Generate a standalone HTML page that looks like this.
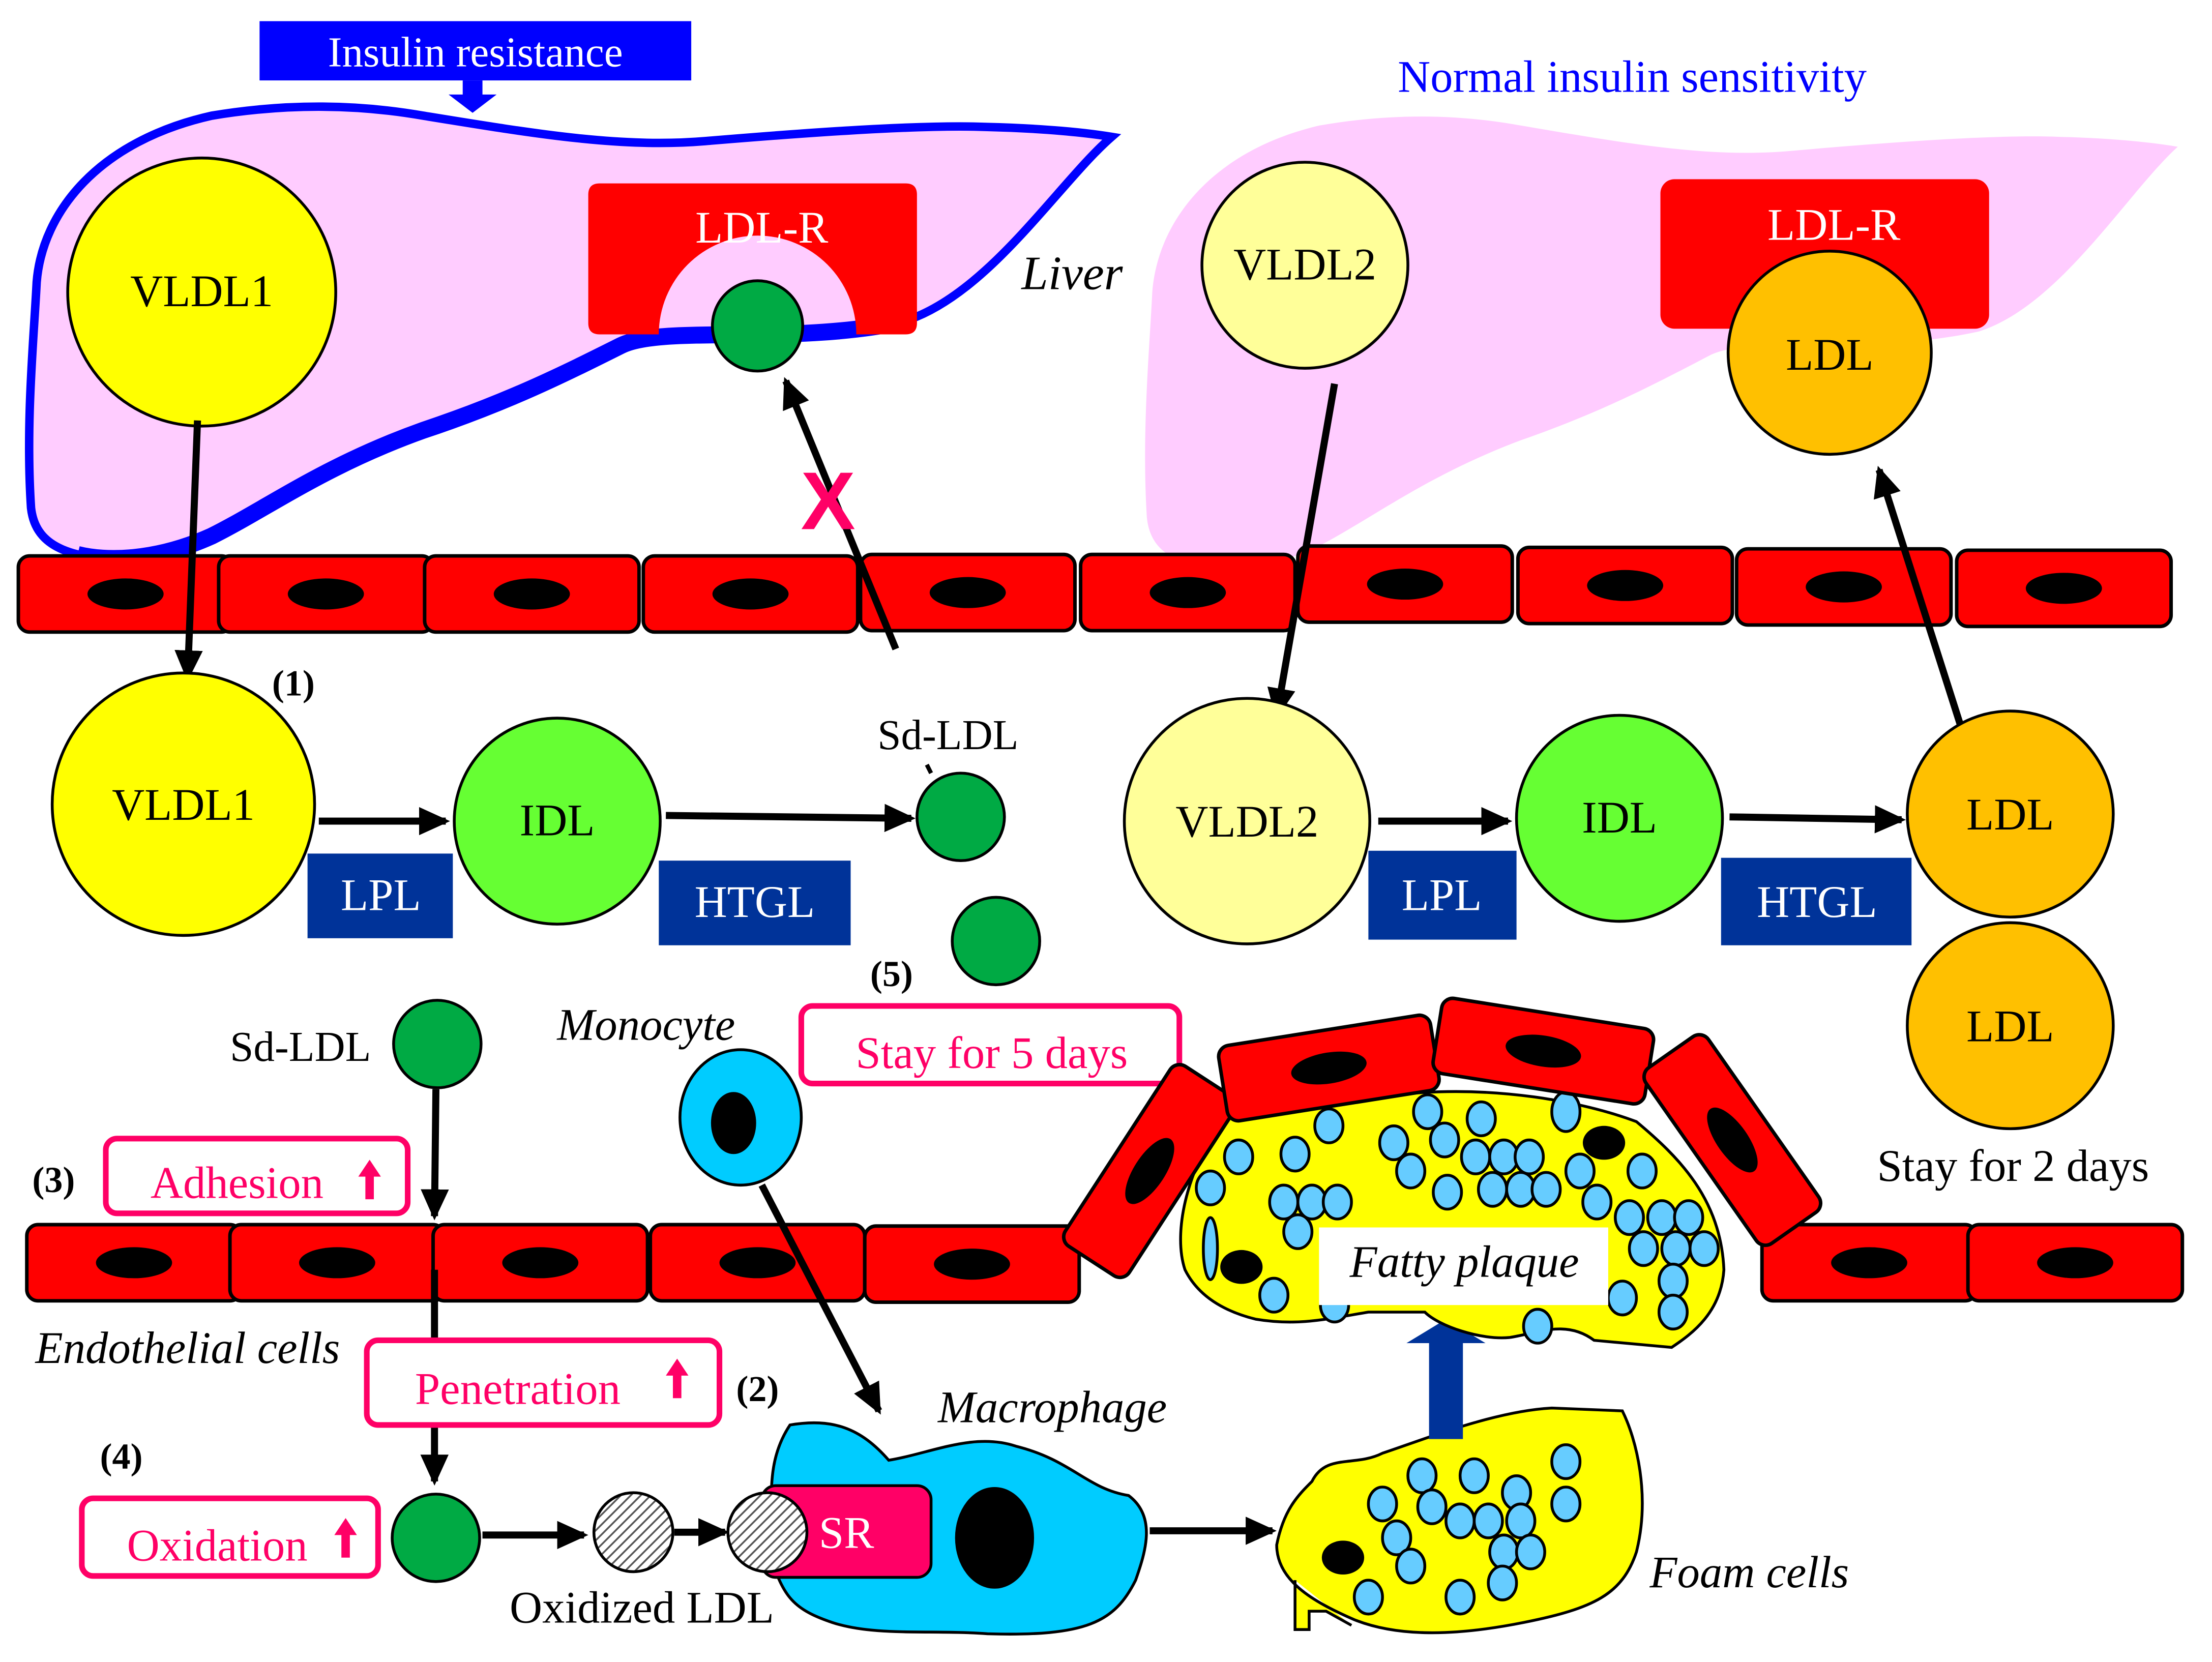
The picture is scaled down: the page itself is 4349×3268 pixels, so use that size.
<!DOCTYPE html>
<html><head><meta charset="utf-8"><style>html,body{margin:0;padding:0;background:#fff}svg{display:block}</style></head>
<body>
<svg width="4349" height="3268" viewBox="0 0 1568 1178" preserveAspectRatio="none" xmlns="http://www.w3.org/2000/svg" font-family="Liberation Serif, serif">
<defs>
<marker id="ah" markerWidth="4.4" markerHeight="4" refX="3.8" refY="2" orient="auto" markerUnits="strokeWidth"><path d="M0,0 L4.4,2 L0,4 z" fill="#000"/></marker>
<pattern id="hatch" width="5" height="5" patternUnits="userSpaceOnUse" patternTransform="rotate(45)"><rect width="5" height="5" fill="#fff"/><line x1="0" y1="0" x2="0" y2="5" stroke="#555" stroke-width="2.5"/></pattern>
<g id="cell"><rect x="-76" y="-27" width="152" height="54" rx="8" fill="#ff0000" stroke="#000" stroke-width="2.5"/><ellipse cx="0" cy="0" rx="27" ry="11" fill="#000"/></g>
<path id="liver" d="M22,360 C18,300 24,240 26,200 C30,150 70,100 150,82 C210,72 260,75 300,82 C380,95 440,105 500,100 C560,95 650,88 700,90 C740,91 770,94 788,97 C750,130 700,210 640,228 C560,245 470,230 440,245 C400,265 360,285 300,305 C230,330 190,360 150,380 C110,398 75,398 55,393 C35,388 24,378 22,360 Z"/>
</defs>
<rect width="1568" height="1178" fill="#fff"/>
<!-- Left liver -->
<use href="#liver" fill="#ffccff" stroke="#0000ff" stroke-width="6"/>
<path d="M640,228 C560,245 470,230 440,245 C400,265 360,285 300,305 C230,330 190,360 150,380 C110,398 75,398 55,393" fill="none" stroke="#0000ff" stroke-width="12"/>
<!-- Right liver -->
<use href="#liver" fill="#ffccff" transform="translate(792,7) scale(0.954,1)"/>
<!-- Insulin resistance label -->
<rect x="184" y="15" width="306" height="42" fill="#0000ff"/>
<text x="337" y="47" font-size="30" fill="#fff" text-anchor="middle">Insulin resistance</text>
<path d="M328,57 h14 v10 h10 l-17,13 l-17,-13 h10 z" fill="#0000ff"/>
<text x="1157" y="65" font-size="32" fill="#0000ff" text-anchor="middle">Normal insulin sensitivity</text>
<text x="760" y="205" font-size="34" font-style="italic" text-anchor="middle">Liver</text>
<!-- LDL-R left -->
<path d="M425,130 H642 Q650,130 650,138 V229 Q650,237 642,237 H607 A70,70 0 0 0 467,237 H425 Q417,237 417,229 V138 Q417,130 425,130 Z" fill="#ff0000"/>
<text x="540" y="172" font-size="32" fill="#fff" text-anchor="middle">LDL-R</text>
<circle cx="537" cy="231" r="32" fill="#00aa44" stroke="#000" stroke-width="2"/>
<!-- LDL-R right -->
<rect x="1177" y="127" width="233" height="106" rx="10" fill="#ff0000"/>
<text x="1300" y="170" font-size="32" fill="#fff" text-anchor="middle">LDL-R</text>
<circle cx="1297" cy="250" r="72" fill="#ffc000" stroke="#000" stroke-width="2"/>
<text x="1297" y="262" font-size="32" text-anchor="middle">LDL</text>
<!-- VLDL top -->
<circle cx="143" cy="207" r="95" fill="#ffff00" stroke="#000" stroke-width="2"/>
<text x="143" y="217" font-size="32" text-anchor="middle">VLDL1</text>
<circle cx="925" cy="188" r="73" fill="#ffff99" stroke="#000" stroke-width="2"/>
<text x="925" y="198" font-size="32" text-anchor="middle">VLDL2</text>
<!-- top endothelial row -->
<use href="#cell" x="89" y="421"/><use href="#cell" x="231" y="421"/><use href="#cell" x="377" y="421"/><use href="#cell" x="532" y="421"/><use href="#cell" x="686" y="420"/>
<use href="#cell" x="842" y="420"/><use href="#cell" x="996" y="414"/><use href="#cell" x="1152" y="415"/><use href="#cell" x="1307" y="416"/><use href="#cell" x="1463" y="417"/>
<!-- arrows top -->
<line x1="140" y1="298" x2="133" y2="480" stroke="#000" stroke-width="5" marker-end="url(#ah)"/>
<line x1="946" y1="272" x2="905" y2="507" stroke="#000" stroke-width="5" marker-end="url(#ah)"/>
<line x1="635" y1="460" x2="557" y2="270" stroke="#000" stroke-width="5" marker-end="url(#ah)"/>
<line x1="1390" y1="515" x2="1332" y2="333" stroke="#000" stroke-width="5" marker-end="url(#ah)"/>
<text x="587" y="375" font-size="58" font-weight="bold" fill="#ff0066" text-anchor="middle" font-family="Liberation Sans, sans-serif">X</text>
<!-- middle row -->
<circle cx="130" cy="570" r="93" fill="#ffff00" stroke="#000" stroke-width="2"/>
<text x="130" y="581" font-size="32" text-anchor="middle">VLDL1</text>
<text x="208" y="493" font-size="26" font-weight="bold" text-anchor="middle">(1)</text>
<circle cx="395" cy="582" r="73" fill="#66ff33" stroke="#000" stroke-width="2"/>
<text x="395" y="592" font-size="32" text-anchor="middle">IDL</text>
<line x1="226" y1="582" x2="316" y2="582" stroke="#000" stroke-width="5" marker-end="url(#ah)"/>
<line x1="472" y1="578" x2="646" y2="580" stroke="#000" stroke-width="5" marker-end="url(#ah)"/>
<rect x="218" y="605" width="103" height="60" fill="#003399"/><text x="270" y="645" font-size="32" fill="#fff" text-anchor="middle">LPL</text>
<rect x="467" y="610" width="136" height="60" fill="#003399"/><text x="535" y="650" font-size="32" fill="#fff" text-anchor="middle">HTGL</text>
<text x="672" y="531" font-size="30" text-anchor="middle">Sd-LDL</text>
<line x1="657" y1="542" x2="660" y2="548" stroke="#000" stroke-width="3"/>
<circle cx="681" cy="579" r="31" fill="#00aa44" stroke="#000" stroke-width="2"/>
<circle cx="706" cy="667" r="31" fill="#00aa44" stroke="#000" stroke-width="2"/>
<text x="632" y="699" font-size="26" font-weight="bold" text-anchor="middle">(5)</text>
<circle cx="884" cy="582" r="87" fill="#ffff99" stroke="#000" stroke-width="2"/>
<text x="884" y="593" font-size="32" text-anchor="middle">VLDL2</text>
<circle cx="1148" cy="580" r="73" fill="#66ff33" stroke="#000" stroke-width="2"/>
<text x="1148" y="590" font-size="32" text-anchor="middle">IDL</text>
<circle cx="1425" cy="577" r="73" fill="#ffc000" stroke="#000" stroke-width="2"/>
<text x="1425" y="588" font-size="32" text-anchor="middle">LDL</text>
<circle cx="1425" cy="727" r="73" fill="#ffc000" stroke="#000" stroke-width="2"/>
<text x="1425" y="738" font-size="32" text-anchor="middle">LDL</text>
<line x1="977" y1="582" x2="1069" y2="582" stroke="#000" stroke-width="5" marker-end="url(#ah)"/>
<line x1="1226" y1="579" x2="1348" y2="581" stroke="#000" stroke-width="5" marker-end="url(#ah)"/>
<rect x="970" y="603" width="105" height="63" fill="#003399"/><text x="1022" y="645" font-size="32" fill="#fff" text-anchor="middle">LPL</text>
<rect x="1220" y="608" width="135" height="62" fill="#003399"/><text x="1288" y="650" font-size="32" fill="#fff" text-anchor="middle">HTGL</text>
<text x="1427" y="837" font-size="32" text-anchor="middle">Stay for 2 days</text>
<!-- lower left -->
<text x="213" y="752" font-size="30" text-anchor="middle">Sd-LDL</text>
<circle cx="310" cy="740" r="31" fill="#00aa44" stroke="#000" stroke-width="2"/>
<line x1="309" y1="772" x2="308" y2="862" stroke="#000" stroke-width="5" marker-end="url(#ah)"/>
<rect x="75" y="807" width="214" height="53" rx="8" fill="#fff" stroke="#ff0066" stroke-width="4"/>
<text x="168" y="849" font-size="32" fill="#ff0066" text-anchor="middle">Adhesion</text>
<path d="M262,822 l-8,12 h5 v16 h6 v-16 h5 z" fill="#ff0066"/>
<text x="38" y="845" font-size="26" font-weight="bold" text-anchor="middle">(3)</text>
<!-- bottom row cells -->
<use href="#cell" x="95" y="895"/><use href="#cell" x="239" y="895"/><use href="#cell" x="383" y="895"/><use href="#cell" x="537" y="895"/><use href="#cell" x="689" y="896"/>
<use href="#cell" x="1325" y="895"/><use href="#cell" x="1471" y="895"/>
<text x="133" y="966" font-size="32" font-style="italic" text-anchor="middle">Endothelial cells</text>
<line x1="308" y1="900" x2="308" y2="1050" stroke="#000" stroke-width="5" marker-end="url(#ah)"/>
<rect x="260" y="950" width="250" height="60" rx="8" fill="#fff" stroke="#ff0066" stroke-width="4"/>
<text x="367" y="995" font-size="32" fill="#ff0066" text-anchor="middle">Penetration</text>
<path d="M480,963 l-8,12 h5 v16 h6 v-16 h5 z" fill="#ff0066"/>
<text x="537" y="993" font-size="26" font-weight="bold" text-anchor="middle">(2)</text>
<text x="86" y="1041" font-size="26" font-weight="bold" text-anchor="middle">(4)</text>
<rect x="58" y="1062" width="210" height="55" rx="8" fill="#fff" stroke="#ff0066" stroke-width="4"/>
<text x="154" y="1106" font-size="32" fill="#ff0066" text-anchor="middle">Oxidation</text>
<path d="M245,1076 l-8,12 h5 v16 h6 v-16 h5 z" fill="#ff0066"/>
<circle cx="309" cy="1090" r="31" fill="#00aa44" stroke="#000" stroke-width="2"/>
<line x1="342" y1="1088" x2="414" y2="1088" stroke="#000" stroke-width="5" marker-end="url(#ah)"/>
<circle cx="449" cy="1086" r="28" fill="url(#hatch)" stroke="#000" stroke-width="2"/>
<line x1="478" y1="1086" x2="514" y2="1086" stroke="#000" stroke-width="5" marker-end="url(#ah)"/>
<text x="455" y="1150" font-size="32" text-anchor="middle">Oxidized LDL</text>
<!-- monocyte -->
<text x="458" y="737" font-size="32" font-style="italic" text-anchor="middle">Monocyte</text>
<ellipse cx="525" cy="792" rx="43" ry="48" fill="#00ccff" stroke="#000" stroke-width="2"/>
<ellipse cx="520" cy="796" rx="16" ry="22" fill="#000"/>
<line x1="540" y1="840" x2="623" y2="1000" stroke="#000" stroke-width="5" marker-end="url(#ah)"/>
<rect x="568" y="713" width="268" height="55" rx="8" fill="#fff" stroke="#ff0066" stroke-width="4"/>
<text x="703" y="757" font-size="32" fill="#ff0066" text-anchor="middle">Stay for 5 days</text>
<!-- macrophage -->
<text x="746" y="1008" font-size="32" font-style="italic" text-anchor="middle">Macrophage</text>
<path d="M560,1010 C590,1005 610,1012 630,1035 C660,1030 690,1015 720,1025 C760,1035 770,1055 800,1060 C820,1075 812,1100 805,1120 C790,1150 770,1160 700,1158 C660,1155 620,1160 590,1150 C560,1140 555,1130 545,1100 C550,1070 540,1040 560,1010 Z" fill="#00ccff" stroke="#000" stroke-width="2"/>
<rect x="540" y="1053" width="120" height="65" rx="10" fill="#ff0066" stroke="#000" stroke-width="2"/>
<text x="600" y="1097" font-size="32" fill="#fff" text-anchor="middle">SR</text>
<circle cx="544" cy="1086" r="28" fill="url(#hatch)" stroke="#000" stroke-width="2"/>
<ellipse cx="705" cy="1090" rx="28" ry="36" fill="#000"/>
<line x1="815" y1="1085" x2="902" y2="1085" stroke="#000" stroke-width="5" marker-end="url(#ah)"/>
<!-- foam cell -->
<path d="M918,1120 v35 h10 v-13 h12 l18,10 M930,1050 C940,1030 960,1040 980,1030 C1010,1020 1060,1000 1100,998 L1150,1000 C1160,1020 1170,1060 1160,1100 C1150,1130 1130,1140 1080,1150 C1030,1160 990,1160 960,1148 C930,1135 905,1120 905,1095 C910,1070 920,1060 930,1050 Z" fill="#ffff00" stroke="#000" stroke-width="2"/>
<text x="1240" y="1125" font-size="32" font-style="italic" text-anchor="middle">Foam cells</text>
<g fill="#66ccff" stroke="#000" stroke-width="2">
<ellipse cx="1008" cy="1046" rx="10" ry="12"/><ellipse cx="1045" cy="1046" rx="10" ry="12"/><ellipse cx="1110" cy="1036" rx="10" ry="12"/>
<ellipse cx="980" cy="1066" rx="10" ry="12"/><ellipse cx="1015" cy="1068" rx="10" ry="12"/><ellipse cx="1035" cy="1078" rx="10" ry="12"/><ellipse cx="1055" cy="1078" rx="10" ry="12"/><ellipse cx="1075" cy="1058" rx="10" ry="12"/><ellipse cx="1078" cy="1078" rx="10" ry="12"/><ellipse cx="1110" cy="1066" rx="10" ry="12"/>
<ellipse cx="990" cy="1090" rx="10" ry="12"/><ellipse cx="1066" cy="1100" rx="10" ry="12"/><ellipse cx="1085" cy="1100" rx="10" ry="12"/><ellipse cx="1000" cy="1110" rx="10" ry="12"/><ellipse cx="1065" cy="1122" rx="10" ry="12"/><ellipse cx="970" cy="1132" rx="10" ry="12"/><ellipse cx="1035" cy="1132" rx="10" ry="12"/>
</g>
<ellipse cx="952" cy="1104" rx="15" ry="12" fill="#000"/>
<!-- blue arrow -->
<path d="M1013,1020 V952 H997 L1025,935 L1053,952 H1037 V1020 Z" fill="#003399"/>
<!-- plaque -->
<path d="M870,790 C900,780 960,770 1000,775 C1060,770 1120,780 1160,795 C1190,820 1220,850 1222,900 C1220,930 1200,945 1185,955 L1130,950 C1110,935 1090,945 1070,948 C1050,950 1020,940 1010,930 L970,930 C940,935 920,940 890,935 C870,930 850,920 840,900 C830,870 845,820 870,790 Z" fill="#ffff00" stroke="#000" stroke-width="2"/>
<g fill="#66ccff" stroke="#000" stroke-width="2">
<ellipse cx="942" cy="798" rx="10" ry="12"/><ellipse cx="878" cy="820" rx="10" ry="12"/><ellipse cx="918" cy="818" rx="10" ry="12"/><ellipse cx="910" cy="852" rx="10" ry="12"/><ellipse cx="930" cy="852" rx="10" ry="12"/><ellipse cx="948" cy="852" rx="10" ry="12"/><ellipse cx="858" cy="842" rx="10" ry="12"/><ellipse cx="920" cy="873" rx="10" ry="12"/><ellipse cx="903" cy="918" rx="10" ry="12"/><ellipse cx="946" cy="925" rx="10" ry="12"/><ellipse cx="858" cy="885" rx="5" ry="22"/>
<ellipse cx="988" cy="810" rx="10" ry="12"/><ellipse cx="1012" cy="788" rx="10" ry="12"/><ellipse cx="1024" cy="808" rx="10" ry="12"/><ellipse cx="1000" cy="830" rx="10" ry="12"/><ellipse cx="1046" cy="820" rx="10" ry="12"/><ellipse cx="1066" cy="820" rx="10" ry="12"/><ellipse cx="1084" cy="820" rx="10" ry="12"/><ellipse cx="1050" cy="793" rx="10" ry="12"/><ellipse cx="1026" cy="845" rx="10" ry="12"/><ellipse cx="1058" cy="843" rx="10" ry="12"/><ellipse cx="1078" cy="843" rx="10" ry="12"/><ellipse cx="1096" cy="843" rx="10" ry="12"/><ellipse cx="1110" cy="788" rx="10" ry="14"/><ellipse cx="1090" cy="940" rx="10" ry="12"/>
<ellipse cx="1120" cy="830" rx="10" ry="12"/><ellipse cx="1132" cy="852" rx="10" ry="12"/><ellipse cx="1164" cy="830" rx="10" ry="12"/><ellipse cx="1155" cy="863" rx="10" ry="12"/><ellipse cx="1178" cy="863" rx="10" ry="12"/><ellipse cx="1197" cy="863" rx="10" ry="12"/><ellipse cx="1165" cy="885" rx="10" ry="12"/><ellipse cx="1188" cy="885" rx="10" ry="12"/><ellipse cx="1208" cy="885" rx="10" ry="12"/><ellipse cx="1186" cy="908" rx="10" ry="12"/><ellipse cx="1186" cy="930" rx="10" ry="12"/><ellipse cx="1150" cy="920" rx="10" ry="12"/>
</g>
<ellipse cx="880" cy="898" rx="15" ry="12" fill="#000"/><ellipse cx="1137" cy="810" rx="15" ry="12" fill="#000"/>
<g transform="translate(815,830) rotate(-57)"><use href="#cell"/></g>
<g transform="translate(942,757) rotate(-9)"><use href="#cell"/></g>
<g transform="translate(1094,745) rotate(9)"><use href="#cell"/></g>
<g transform="translate(1228,808) rotate(55)"><use href="#cell"/></g>
<rect x="935" y="870" width="205" height="55" fill="#fff"/>
<text x="1038" y="905" font-size="32" font-style="italic" text-anchor="middle">Fatty plaque</text>
</svg>
</body></html>
